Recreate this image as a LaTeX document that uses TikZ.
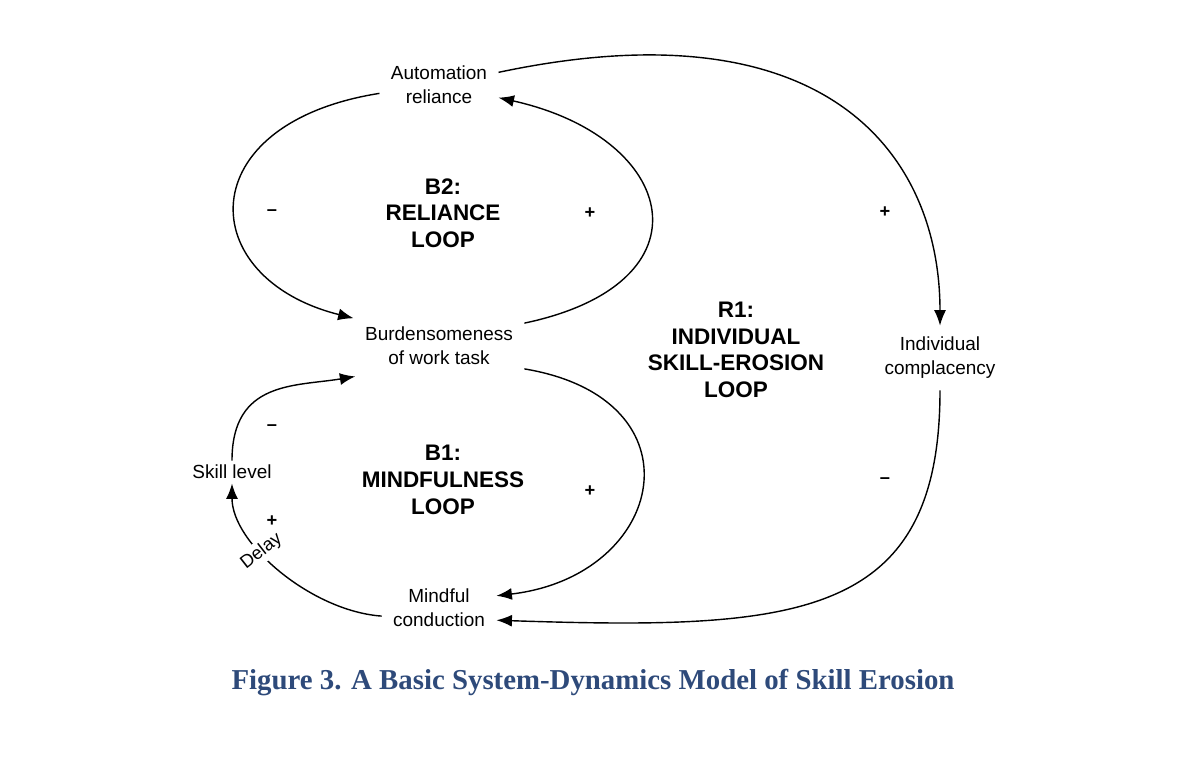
\documentclass[tikz,border=0pt]{standalone}
\usepackage{fontspec}
\setmainfont{Liberation Sans}
\newfontfamily\capfont{Liberation Serif}
\usetikzlibrary{arrows.meta}
\definecolor{capblue}{HTML}{2E4A7A}
\tikzset{
  var/.style={align=center, inner sep=8pt, font=\fontsize{13.5}{17}\selectfont},
  loop/.style={align=center, font=\bfseries\fontsize{16}{19}\selectfont},
  sgn/.style={font=\bfseries\fontsize{13}{15}\selectfont},
  link/.style={line width=1pt, -{Latex[length=11pt,width=8.5pt]}}
}
\begin{document}
\begin{tikzpicture}[x=0.025cm,y=-0.025cm]
  \useasboundingbox (0,0) rectangle (1200,762);
  % variables
  \node[var] (auto) at (439,85) {Automation\\reliance};
  \node[var] (burden) at (439,346) {Burdensomeness\\of work task};
  \node[var] (mind) at (439,608) {Mindful\\conduction};
  \node[var] (compl) at (940,358) {Individual\\complacency};
  \node[var, inner sep=3pt] (skill) at (232,472) {Skill level};
  % loop names
  \node[loop] (b2) at (443,213) {B2:\\RELIANCE\\LOOP};
  \node[loop] (b1) at (443,480) {B1:\\MINDFULNESS\\LOOP};
  \node[loop] (r1) at (736,350) {R1:\\INDIVIDUAL\\SKILL-EROSION\\LOOP};
  % links
  \draw[link] (auto.188) .. controls +(-190,30) and +(-160,-40) .. (burden.162);
  \draw[link] (burden.15) .. controls +(190,-40) and +(180,40) .. (auto.-12);
  \draw[link] (auto.12) .. controls +(330,-70) and +(0,-170) .. (compl.north);
  \draw[link] (compl.south) .. controls +(0,230) and +(300,10) .. (mind.-12);
  \draw[link] (burden.-15) .. controls +(180,30) and +(170,-20) .. (mind.12);
  \draw[link] (mind.188) .. controls +(-70,-5) and +(0,60) .. (skill.south)
    node[pos=0.62, rotate=38, fill=white, inner sep=2pt, font=\fontsize{13}{15}\selectfont] (delay) {Delay};
  \draw[link] (skill.north) .. controls +(0,-80) and +(-60,10) .. (burden.200);
  % polarities
  \node[sgn] (s1) at (272,213) {--};
  \node[sgn] (s2) at (590,213) {+};
  \node[sgn] (s3) at (885,212) {+};
  \node[sgn] (s4) at (272,428) {--};
  \node[sgn] (s5) at (272,521) {+};
  \node[sgn] (s6) at (590,491) {+};
  \node[sgn] (s7) at (885,481) {--};
  % caption
  \node[text=capblue, font=\capfont\bfseries\fontsize{20.5}{24}\selectfont] (cap) at (593,683)
    {Figure 3. A Basic System-Dynamics Model of Skill Erosion};
\end{tikzpicture}
\end{document}
